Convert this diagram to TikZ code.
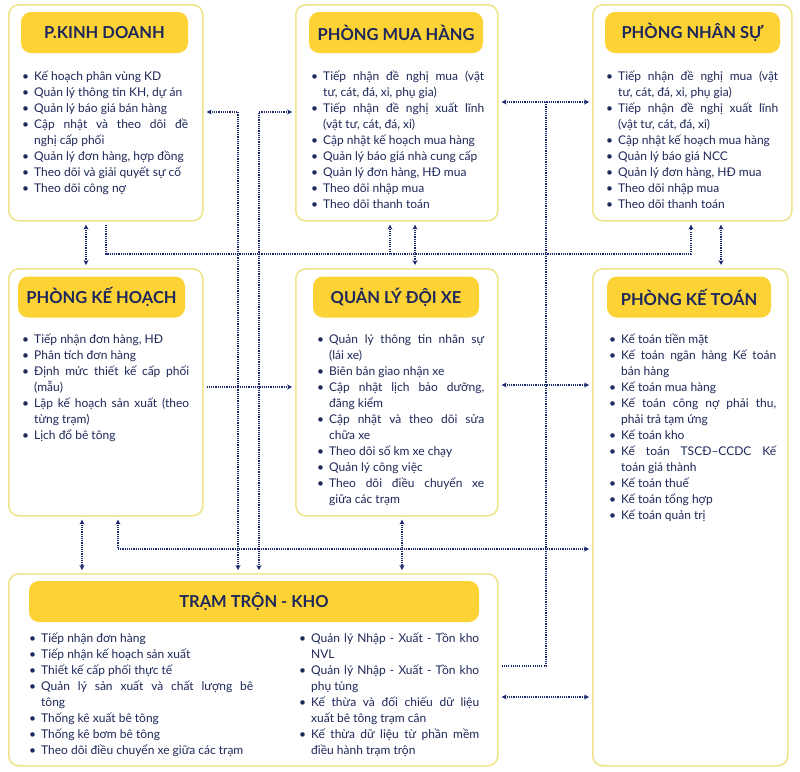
\documentclass[tikz,border=0pt]{standalone}
\usepackage{fontspec}
\setmainfont{Lato}
\usetikzlibrary{arrows.meta}

\definecolor{boxline}{HTML}{F0E48C}
\definecolor{pillfill}{HTML}{FDD234}
\definecolor{navy}{HTML}{1E285A}
\definecolor{linkc}{HTML}{1B2A6E}

\newenvironment{itemlist}{\begin{list}{\textbullet}{\setlength{\leftmargin}{12pt}\setlength{\labelsep}{5pt}\setlength{\labelwidth}{7pt}\setlength{\itemsep}{0pt}\setlength{\parsep}{0pt}\setlength{\topsep}{0pt}\setlength{\partopsep}{0pt}}}{\end{list}}

\tikzset{
  box/.style={draw=boxline, line width=1.6pt, rounded corners=10pt, fill=white, anchor=north west, inner sep=0pt},
  pill/.style={fill=pillfill, rounded corners=10pt, text=navy, font=\bfseries\fontsize{16.5}{19}\selectfont, minimum height=41pt, inner sep=0pt},
  items/.style={anchor=north west, inner sep=0pt, text=navy, align=justify, font=\fontsize{12}{16}\selectfont},
  link/.style={linkc, line width=1.1pt, dash pattern=on 1.1pt off 1.1pt, shorten <=3pt, shorten >=3pt},
}

\begin{document}
\begin{tikzpicture}[x=1pt, y=-1pt, >={Stealth[length=5pt,width=5pt]}]
  \useasboundingbox (0,0) rectangle (800,771);

  % boxes
  \node[box, minimum width=194pt, minimum height=216pt] (kinhdoanh) at (8,4) {};
  \node[box, minimum width=202pt, minimum height=216pt] (muahang) at (295,4) {};
  \node[box, minimum width=199pt, minimum height=216pt] (nhansu) at (592,4) {};
  \node[box, minimum width=194pt, minimum height=247pt] (kehoach) at (8,268) {};
  \node[box, minimum width=202pt, minimum height=247pt] (doixe) at (295,268) {};
  \node[box, minimum width=195pt, minimum height=497pt] (ketoan) at (592,268) {};
  \node[box, minimum width=489pt, minimum height=192pt] (tramtron) at (8,573) {};

  % titles
  \node[pill, minimum width=167pt] (kinhdoanhT) at (104.5,32.5) {P.KINH DOANH};
  \node[pill, minimum width=174pt] (muahangT) at (396,32.5) {PHÒNG MUA HÀNG};
  \node[pill, minimum width=175pt] (nhansuT) at (692.5,32.5) {PHÒNG NHÂN SỰ};
  \node[pill, minimum width=167pt] (kehoachT) at (101.5,297) {PHÒNG KẾ HOẠCH};
  \node[pill, minimum width=166pt] (doixeT) at (396,297) {QUẢN LÝ ĐỘI XE};
  \node[pill, minimum width=164pt] (ketoanT) at (689,297) {PHÒNG KẾ TOÁN};
  \node[pill, minimum width=450pt] (tramtronT) at (254,601.5) {TRẠM TRỘN - KHO};

  % lists
  \node[items, text width=166pt] (kinhdoanhL) at (22,64) {\begin{itemlist}
    \item Kế hoạch phân vùng KD
    \item Quản lý thông tin KH, dự án
    \item Quản lý báo giá bán hàng
    \item Cập nhật và theo dõi đề\linebreak nghị cấp phối
    \item Quản lý đơn hàng, hợp đồng
    \item Theo dõi và giải quyết sự cố
    \item Theo dõi công nợ
  \end{itemlist}};
  \node[items, text width=173pt] (muahangL) at (311,64) {\begin{itemlist}
    \item Tiếp nhận đề nghị mua (vật\linebreak tư, cát, đá, xi, phụ gia)
    \item Tiếp nhận đề nghị xuất lĩnh\linebreak (vật tư, cát, đá, xi)
    \item Cập nhật kế hoạch mua hàng
    \item Quản lý báo giá nhà cung cấp
    \item Quản lý đơn hàng, HĐ mua
    \item Theo dõi nhập mua
    \item Theo dõi thanh toán
  \end{itemlist}};
  \node[items, text width=172pt] (nhansuL) at (606,64) {\begin{itemlist}
    \item Tiếp nhận đề nghị mua (vật\linebreak tư, cát, đá, xi, phụ gia)
    \item Tiếp nhận đề nghị xuất lĩnh\linebreak (vật tư, cát, đá, xi)
    \item Cập nhật kế hoạch mua hàng
    \item Quản lý báo giá NCC
    \item Quản lý đơn hàng, HĐ mua
    \item Theo dõi nhập mua
    \item Theo dõi thanh toán
  \end{itemlist}};
  \node[items, text width=167pt] (kehoachL) at (22,327) {\begin{itemlist}
    \item Tiếp nhận đơn hàng, HĐ
    \item Phân tích đơn hàng
    \item Định mức thiết kế cấp phối\linebreak (mẫu)
    \item Lập kế hoạch sản xuất (theo\linebreak từng trạm)
    \item Lịch đổ bê tông
  \end{itemlist}};
  \node[items, text width=167pt] (doixeL) at (317,327) {\begin{itemlist}
    \item Quản lý thông tin nhân sự\linebreak (lái xe)
    \item Biên bản giao nhận xe
    \item Cập nhật lịch bảo dưỡng,\linebreak đăng kiểm
    \item Cập nhật và theo dõi sửa\linebreak chữa xe
    \item Theo dõi số km xe chạy
    \item Quản lý công việc
    \item Theo dõi điều chuyển xe\linebreak giữa các trạm
  \end{itemlist}};
  \node[items, text width=167pt] (ketoanL) at (609,327) {\begin{itemlist}
    \item Kế toán tiền mặt
    \item Kế toán ngân hàng Kế toán\linebreak bán hàng
    \item Kế toán mua hàng
    \item Kế toán công nợ phải thu,\linebreak phải trả tạm ứng
    \item Kế toán kho
    \item Kế toán TSCĐ–CCDC Kế\linebreak toán giá thành
    \item Kế toán thuế
    \item Kế toán tổng hợp
    \item Kế toán quản trị
  \end{itemlist}};
  \node[items, text width=224pt] (tramtronL) at (29,626) {\begin{itemlist}
    \item Tiếp nhận đơn hàng
    \item Tiếp nhận kế hoạch sản xuất
    \item Thiết kế cấp phối thực tế
    \item Quản lý sản xuất và chất lượng bê\linebreak tông
    \item Thống kê xuất bê tông
    \item Thống kê bơm bê tông
    \item Theo dõi điều chuyển xe giữa các trạm
  \end{itemlist}};
  \node[items, text width=180pt] (tramtronR) at (299,626) {\begin{itemlist}
    \item Quản lý Nhập - Xuất - Tồn kho\linebreak NVL
    \item Quản lý Nhập - Xuất - Tồn kho\linebreak phụ tùng
    \item Kế thừa và đối chiếu dữ liệu\linebreak xuất bê tông trạm cân
    \item Kế thừa dữ liệu từ phần mềm\linebreak điều hành trạm trộn
  \end{itemlist}};

  % connectors
  \coordinate (busKD) at (106,254);
  \coordinate (busNS) at (691,254);
  \coordinate (busMH) at (390,254);
  \coordinate (busR) at (546,102);
  \coordinate (busKH) at (118,549);

  \draw[link, <->] (kinhdoanh.south -| 86,0) -- (kehoach.north -| 86,0);
  \draw[link, ->] (kinhdoanh.south -| busKD) -- (busKD) -- (busNS) -- (nhansu.south -| busNS);
  \draw[link, ->, shorten <=0pt] (busMH) -- (muahang.south -| busMH);
  \draw[link, <->] (kinhdoanh.east |- 0,112) -| (tramtron.north -| 238,0);
  \draw[link, <->] (muahang.west |- 0,112) -| (tramtron.north -| 259,0);
  \draw[link, <->] (muahang.south -| 415,0) -- (doixe.north -| 415,0);
  \draw[link, <->] (nhansu.south -| 721,0) -- (ketoan.north -| 721,0);
  \draw[link, <->] (muahang.east |- busR) -- (nhansu.west |- busR);
  \draw[link, shorten <=0pt] (busR) |- (tramtron.east |- 0,666);
  \draw[link, ->] (kehoach.east |- 0,387) -- (doixe.west |- 0,387);
  \draw[link, <->] (doixe.east |- 0,385) -- (ketoan.west |- 0,385);
  \draw[link, <->] (kehoach.south -| 82,0) -- (tramtron.north -| 82,0);
  \draw[link, <->] (kehoach.south -| busKH) |- (ketoan.west |- busKH);
  \draw[link, <->] (doixe.south -| 402,0) -- (tramtron.north -| 402,0);
  \draw[link, <->] (tramtron.east |- 0,697) -- (ketoan.west |- 0,697);
\end{tikzpicture}
\end{document}
